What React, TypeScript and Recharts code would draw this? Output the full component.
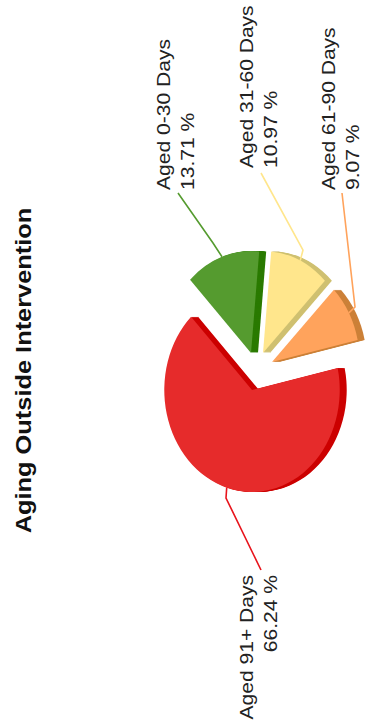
import { PieChart, Pie, Sector } from 'recharts';

const categories = ['Aged 0-30 Days', 'Aged 31-60 Days', 'Aged 61-90 Days', 'Aged 91+ Days'];
const shares = [13.71, 10.97, 9.07, 66.24];
const faceColors = ['#559B2F', '#FFE68C', '#FFA35C', '#E62B2B'];
const sideColors = ['#2A7A00', '#CFC070', '#CC8038', '#CC0000'];

// slice pull-out, in px
const explodeX = [-1, 11, 20, 0];
const explodeY = [-37, -37, -28, 0];

// leader line bend and end points, then where the two text lines sit
const bendPoints = [[213, 243], [303, 250], [355, 307], [226, 498]];
const endPoints = [[178, 193], [261, 173], [342, 193], [261, 570]];
const labelX = [170, 253, 335, 253];
const labelY = [190, 168, 190, 575];
const labelAnchor = ['start', 'start', 'start', 'end'];

const WIDTH = 369;
const HEIGHT = 724;
const CX = 252;
const CY = 390;
const RADIUS = 102;
const SQUASH = 0.86;
const DEPTH = 7;
const TEXT_STRETCH = 1.17;

const data = categories.map((name, i) => ({ name, value: shares[i], fill: faceColors[i] }));

function SliceShape(props: any) {
  const { cx, cy, innerRadius, outerRadius, startAngle, endAngle, index } = props;
  const sector = { cx, cy, innerRadius, outerRadius, startAngle, endAngle, stroke: 'none' };
  const place = (shift: number) =>
    `translate(${cx + explodeX[index] + shift} ${cy + explodeY[index]}) scale(${SQUASH} 1) translate(${-cx} ${-cy})`;
  const layers = [];
  for (let d = DEPTH; d > 0; d--) {
    layers.push(
      <g key={d} transform={place(d)}>
        <Sector {...sector} fill={sideColors[index]} />
      </g>
    );
  }
  return (
    <g>
      {layers}
      <g transform={place(0)}>
        <Sector {...sector} fill={faceColors[index]} />
      </g>
    </g>
  );
}

function edgePoint(props: any) {
  const { cx, cy, outerRadius, midAngle, index } = props;
  const rad = (midAngle * Math.PI) / 180;
  return [
    cx + explodeX[index] + SQUASH * outerRadius * Math.cos(rad),
    cy + explodeY[index] - outerRadius * Math.sin(rad),
  ];
}

function LeaderLine(props: any) {
  const i = props.index;
  const [sx, sy] = edgePoint(props);
  const pts = [[sx, sy], bendPoints[i], endPoints[i]].map((p) => p.join(',')).join(' ');
  return <polyline points={pts} fill="none" stroke={i === 3 ? '#E8141C' : faceColors[i]} strokeWidth={1.6} />;
}

function SliceLabel(props: any) {
  const i = props.index;
  return (
    <text
      transform={`translate(${labelX[i]} ${labelY[i]}) rotate(-90) scale(${TEXT_STRETCH} 1)`}
      textAnchor={labelAnchor[i]}
      fontFamily="Liberation Sans"
      fontSize={18}
      fill="#222"
    >
      <tspan x={0} y={0}>{categories[i]}</tspan>
      <tspan x={0} y={24}>{`${shares[i].toFixed(2)} %`}</tspan>
    </text>
  );
}

export default function App() {
  return (
    <div style={{ position: 'absolute', left: 0, top: 0, width: WIDTH, height: HEIGHT, background: '#fff' }}>
      <PieChart width={WIDTH} height={HEIGHT} margin={{ top: 0, right: 0, bottom: 0, left: 0 }}>
        <text
          transform={`translate(31 370.5) rotate(-90) scale(${TEXT_STRETCH} 1)`}
          textAnchor="middle"
          fontFamily="Liberation Sans"
          fontWeight="bold"
          fontSize={21.7}
          fill="#111"
        >
          Aging Outside Intervention
        </text>
        <Pie
          data={data}
          dataKey="value"
          nameKey="name"
          cx={CX}
          cy={CY}
          innerRadius={0}
          outerRadius={RADIUS}
          startAngle={134}
          endAngle={-226}
          paddingAngle={0}
          stroke="none"
          shape={SliceShape}
          label={SliceLabel}
          labelLine={LeaderLine}
          isAnimationActive={false}
        />
      </PieChart>
    </div>
  );
}
